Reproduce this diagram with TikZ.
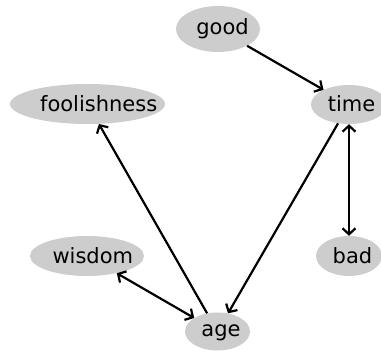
\documentclass[tikz,border=0pt]{standalone}
\usepackage{fontspec}
\setmainfont{DejaVu Sans}
\usetikzlibrary{arrows.meta,shapes.geometric}
\definecolor{blobgray}{RGB}{205,205,205}
\begin{document}
\begin{tikzpicture}[x=1pt,y=-1pt,
  blob/.style={ellipse,fill=blobgray,inner sep=0pt},
  lbl/.style={anchor=base,inner sep=0pt,font=\fontsize{21}{25}\selectfont},
  link/.style={line width=2.2pt,-{Straight Barb[length=6pt,width=13pt]}},
  dlink/.style={line width=2.2pt,{Straight Barb[length=6pt,width=13pt]}-{Straight Barb[length=6pt,width=13pt]}}]
\useasboundingbox (0,0) rectangle (381,352);
\clip (0,0) rectangle (381,352);
% ellipses
\node[blob,minimum width=84pt,minimum height=46pt] (good) at (218,29) {};
\node[blob,minimum width=76pt,minimum height=39pt] (time) at (349,104.5) {};
\node[blob,minimum width=155pt,minimum height=40pt] (foolishness) at (87.5,104) {};
\node[blob,minimum width=114pt,minimum height=40pt] (wisdom) at (87,256) {};
\node[blob,minimum width=66pt,minimum height=40pt] (bad) at (349,256) {};
\node[blob,minimum width=65pt,minimum height=38pt] (age) at (217.5,331.5) {};
% labels
\node[lbl] (goodt) at (222.5,35) {good};
\node[lbl] (timet) at (351.5,111.7) {time};
\node[lbl] (foolishnesst) at (98.7,111.7) {foolishness};
\node[lbl] (wisdomt) at (92.8,263.3) {wisdom};
\node[lbl] (badt) at (352.5,263.7) {bad};
\node[lbl] (aget) at (221,336.7) {age};
% connectors
\draw[link] (good) -- (time);
\draw[link] (time) -- (age);
\draw[link] (age) -- (foolishness);
\draw[dlink] (time) -- (bad);
\draw[dlink] (wisdom) -- (age);
\end{tikzpicture}
\end{document}
